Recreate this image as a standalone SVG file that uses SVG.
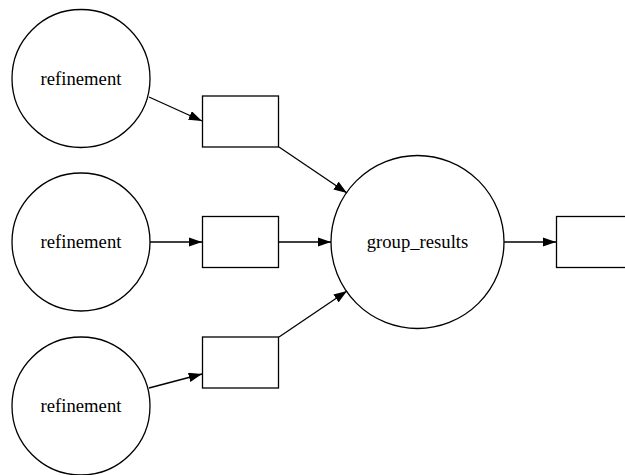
<svg xmlns="http://www.w3.org/2000/svg" width="625" height="475" viewBox="0 0 625 475">
<style>
.n{fill:none;stroke:#000;stroke-width:1.3}
.e{fill:none;stroke:#000;stroke-width:1.3;marker-end:url(#ah)}
.t{font-family:'Liberation Serif','Times New Roman',serif;font-size:18.67px;text-anchor:middle;fill:#000}
</style>
<defs>
<marker id="ah" markerUnits="userSpaceOnUse" viewBox="0 0 13.3 9.4" refX="13.3" refY="4.7" markerWidth="13.3" markerHeight="9.4" orient="auto">
<polygon points="0,0 13.3,4.7 0,9.4" fill="#000"/>
</marker>
</defs>
<rect width="625" height="475" fill="#fff"/>
<g id="edges">
<path class="e" d="M149,97 L202,121"/>
<path class="e" d="M150,242 L202,242"/>
<path class="e" d="M149,388 L202,374"/>
<path class="e" d="M279,147 L347,193"/>
<path class="e" d="M279,242 L331,242"/>
<path class="e" d="M279,337 L347,291"/>
<path class="e" d="M504,242 L556,242"/>
</g>
<g id="refinement1"><circle class="n" cx="81" cy="78.5" r="69"/><text class="t" x="81" y="84.5" font-family="Liberation Serif, serif">refinement</text></g>
<g id="refinement2"><circle class="n" cx="81" cy="242" r="69"/><text class="t" x="81" y="248" font-family="Liberation Serif, serif">refinement</text></g>
<g id="refinement3"><circle class="n" cx="81" cy="406" r="69"/><text class="t" x="81" y="412" font-family="Liberation Serif, serif">refinement</text></g>
<g id="box1"><rect class="n" x="202.5" y="96" width="76" height="51"/></g>
<g id="box2"><rect class="n" x="202.5" y="216.5" width="76" height="51"/></g>
<g id="box3"><rect class="n" x="202.5" y="337" width="76" height="51"/></g>
<g id="group_results"><circle class="n" cx="417.5" cy="242" r="86.5"/><text class="t" x="417.5" y="248" font-family="Liberation Serif, serif">group_results</text></g>
<g id="box_out"><rect class="n" x="556.5" y="216.5" width="76" height="51"/></g>
</svg>
